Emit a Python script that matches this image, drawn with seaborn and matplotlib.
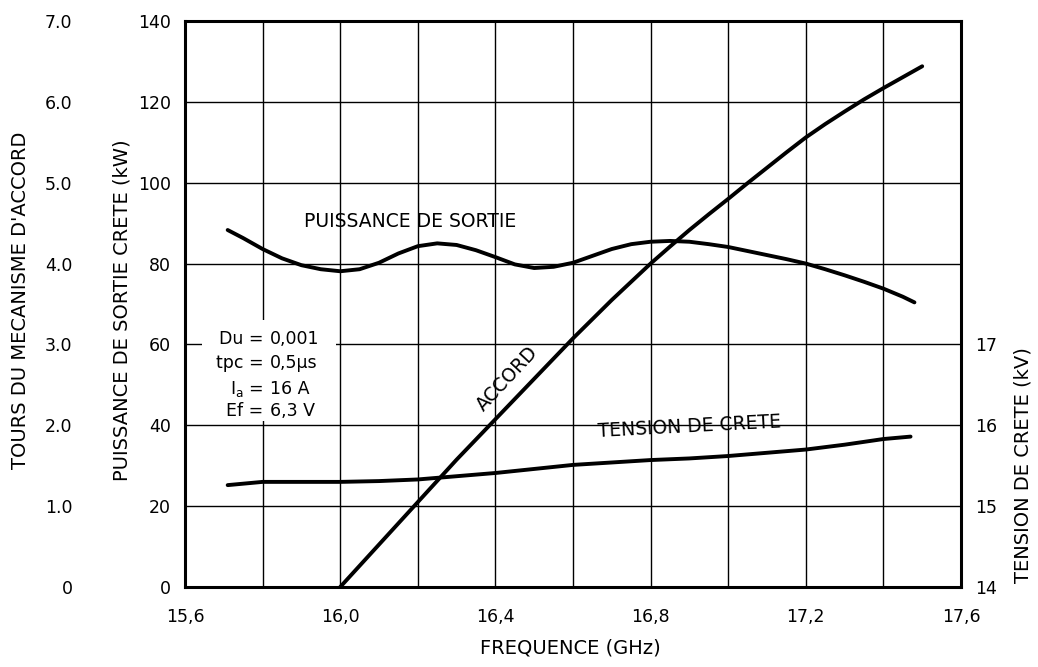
import matplotlib
matplotlib.use("Agg")
import matplotlib.pyplot as plt
import seaborn as sns
from matplotlib.patches import Rectangle

# ---------------- data ----------------
freq_puissance = [15.71, 15.75, 15.80, 15.85, 15.90, 15.95, 16.00, 16.05, 16.10, 16.15,
                  16.20, 16.25, 16.30, 16.35, 16.40, 16.45, 16.50, 16.55, 16.60, 16.65,
                  16.70, 16.75, 16.80, 16.85, 16.90, 16.95, 17.00, 17.05, 17.10, 17.15,
                  17.20, 17.25, 17.30, 17.35, 17.40, 17.45, 17.48]
puissance_kw = [88.3, 86.3, 83.6, 81.3, 79.6, 78.6, 78.1, 78.6, 80.2, 82.5,
                84.3, 85.0, 84.6, 83.3, 81.6, 79.8, 78.9, 79.2, 80.2, 81.9,
                83.6, 84.8, 85.4, 85.6, 85.4, 84.8, 84.1, 83.1, 82.1, 81.1,
                80.0, 78.6, 77.1, 75.5, 73.8, 71.8, 70.4]

freq_accord = [16.0, 16.1, 16.2, 16.3, 16.4, 16.5, 16.6, 16.7, 16.75, 16.8,
               16.85, 16.9, 16.95, 17.0, 17.05, 17.1, 17.15, 17.2, 17.25, 17.3,
               17.35, 17.4, 17.45, 17.5]
accord_tours = [0.0, 0.525, 1.05, 1.575, 2.075, 2.575, 3.075, 3.55, 3.775, 4.0,
                4.21, 4.415, 4.61, 4.8, 4.995, 5.185, 5.375, 5.56, 5.725, 5.88,
                6.03, 6.17, 6.305, 6.44]

freq_tension = [15.71, 15.8, 15.9, 16.0, 16.1, 16.2, 16.3, 16.4, 16.5, 16.6,
                16.7, 16.8, 16.9, 17.0, 17.1, 17.2, 17.3, 17.4, 17.47]
tension_kv = [15.26, 15.30, 15.30, 15.30, 15.31, 15.33, 15.37, 15.41, 15.46, 15.51,
              15.54, 15.57, 15.59, 15.62, 15.66, 15.70, 15.76, 15.83, 15.86]

x_ticks = [15.6, 16.0, 16.4, 16.8, 17.2, 17.6]
x_ticklabels = ["15,6", "16,0", "16,4", "16,8", "17,2", "17,6"]
kw_ticks = [0, 20, 40, 60, 80, 100, 120, 140]
tours_ticks = [0, 1, 2, 3, 4, 5, 6, 7]
tours_labels = ["0", "1.0", "2.0", "3.0", "4.0", "5.0", "6.0", "7.0"]
kv_ticks = [14, 15, 16, 17]

conditions = [("Du =", "0,001"), ("tpc =", "0,5\u03bcs"),
              (r"$\mathregular{I_{a}}$ =", "16 A"), ("Ef =", "6,3 V")]

# ---------------- style ----------------
sns.set_style("white")
plt.rcParams["font.family"] = ["DejaVu Sans"]
plt.rcParams["mathtext.fontset"] = "custom"
plt.rcParams["mathtext.rm"] = "DejaVu Sans"
INK = "black"
LW = 2.8
TICK_FS = 12.5

W, H = 1038, 667
fig = plt.figure(figsize=(W / 100, H / 100), dpi=100)
L, R, T, B = 185, 961, 21, 587
ax = fig.add_axes([L / W, 1 - B / H, (R - L) / W, (B - T) / H])

# main axis (kW)
ax.set_xlim(15.6, 17.6)
ax.set_ylim(0, 140)
ax.set_xticks(x_ticks)
ax.set_xticklabels(x_ticklabels)
ax.set_xticks([15.8, 16.2, 16.6, 17.0, 17.4], minor=True)
ax.set_yticks(kw_ticks)
ax.grid(True, which="both", color=INK, linewidth=1.0)
ax.tick_params(axis="both", which="both", length=0, labelsize=TICK_FS, colors=INK)
ax.tick_params(axis="x", pad=15)
ax.tick_params(axis="y", pad=10)
for s in ax.spines.values():
    s.set_color(INK)
    s.set_linewidth(2.2)
    s.set_visible(True)
ax.set_axisbelow(True)

sns.lineplot(x=freq_puissance, y=puissance_kw, ax=ax, color=INK, linewidth=LW,
             estimator=None, sort=False, solid_capstyle="round",
             solid_joinstyle="round")

# outer left axis (tours)
ax_l = ax.twinx()
ax_l.set_ylim(0, 7)
ax_l.yaxis.tick_left()
ax_l.yaxis.set_label_position("left")
ax_l.spines["left"].set_position(("outward", 77))
for s in ax_l.spines.values():
    s.set_visible(False)
ax_l.set_yticks(tours_ticks)
ax_l.set_yticklabels(tours_labels)
ax_l.tick_params(axis="y", length=0, pad=4, labelsize=TICK_FS, colors=INK)
ax_l.grid(False)
sns.lineplot(x=freq_accord, y=accord_tours, ax=ax_l, color=INK, linewidth=LW,
             estimator=None, sort=False, solid_capstyle="round",
             solid_joinstyle="round")

# right axis (kV)
ax_r = ax.twinx()
ax_r.set_ylim(14, 21)
ax_r.set_yticks(kv_ticks)
for s in ax_r.spines.values():
    s.set_visible(False)
ax_r.tick_params(axis="y", length=0, pad=10, labelsize=TICK_FS, colors=INK)
ax_r.grid(False)
sns.lineplot(x=freq_tension, y=tension_kv, ax=ax_r, color=INK, linewidth=LW,
             estimator=None, sort=False, solid_capstyle="round",
             solid_joinstyle="round")

for a in (ax, ax_l, ax_r):
    a.set_xlabel("")
    a.set_ylabel("")
ax.set_xlim(15.6, 17.6)

# axis titles
lab_fs = 14
fig.text(570 / W, 1 - 648 / H, "FREQUENCE (GHz)", ha="center", va="center",
         fontsize=lab_fs, color=INK)
fig.text(122 / W, 1 - 310 / H, "PUISSANCE DE SORTIE CRETE (kW)", rotation=90,
         ha="center", va="center", fontsize=lab_fs, color=INK)
fig.text(21 / W, 1 - 300 / H, "TOURS DU MECANISME D'ACCORD", rotation=90,
         ha="center", va="center", fontsize=lab_fs, color=INK)
fig.text(1023 / W, 1 - 465 / H, "TENSION DE CRETE (kV)", rotation=90,
         ha="center", va="center", fontsize=lab_fs, color=INK)

# curve labels
ann_fs = 13.5
ax.text(16.18, 90.3, "PUISSANCE DE SORTIE", ha="center", va="center",
        fontsize=ann_fs, color=INK)
ax.text(16.43, 51.5, "ACCORD", ha="center", va="center", rotation=47,
        fontsize=ann_fs, color=INK)
ax.text(16.9, 39.6, "TENSION DE CRETE", ha="center", va="center", rotation=3,
        fontsize=ann_fs, color=INK)

# condition box
ax.add_patch(Rectangle((15.645, 41.0), 0.345, 25.0, facecolor="white",
                       edgecolor="none", zorder=2))
ys = [61.4, 55.4, 49.0, 43.6]
for (lhs, rhs), yv in zip(conditions, ys):
    ax.text(15.802, yv, lhs, ha="right", va="center", fontsize=12.5, color=INK, zorder=3)
    ax.text(15.818, yv, rhs, ha="left", va="center", fontsize=12.5, color=INK, zorder=3)

fig.savefig("out.png", dpi=100, facecolor="white")
